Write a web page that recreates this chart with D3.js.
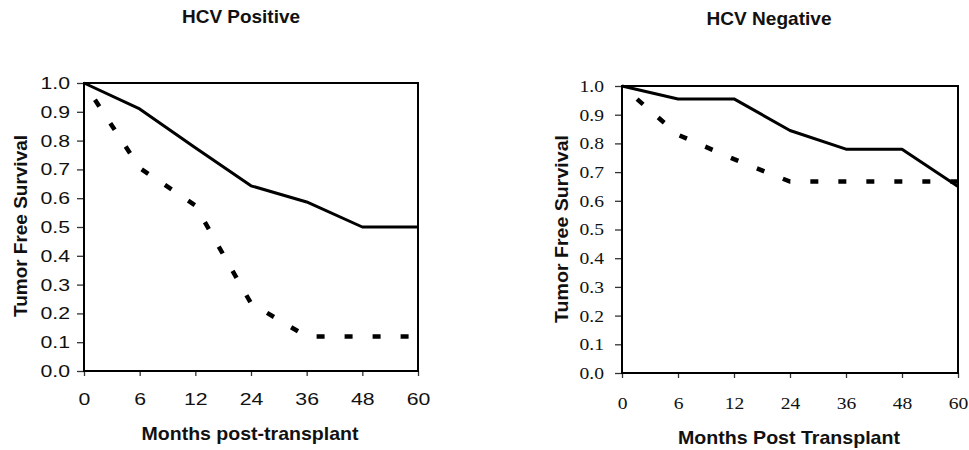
<!DOCTYPE html>
<html>
<head>
<meta charset="utf-8">
<script src="https://cdnjs.cloudflare.com/ajax/libs/d3/7.8.5/d3.min.js"></script>
<style>
  body { margin: 0; background: #fff; }
</style>
</head>
<body>
<svg id="canvas" width="969" height="450"></svg>
<script>
// months on the x axis (equally spaced categories)
let months = ['0', '6', '12', '24', '36', '48', '60'];
let yTicks = [0, 0.1, 0.2, 0.3, 0.4, 0.5, 0.6, 0.7, 0.8, 0.9, 1.0];

// HCV positive
let posSolid = [1.0, 0.91, 0.775, 0.643, 0.587, 0.5, 0.5];
let posDashed = [1.0, 0.705, 0.575, 0.235, 0.12, 0.12, 0.12];

// HCV negative
let negSolid = [1.0, 0.955, 0.955, 0.845, 0.78, 0.78, 0.65];
let negDashed = [1.0, 0.83, 0.745, 0.667, 0.667, 0.667, 0.667];

let canvas = d3.select('#canvas');

let stretch = (sel, k) => {
    sel.each(function () {
        let w = this.getComputedTextLength();
        d3.select(this).attr('textLength', w * k).attr('lengthAdjust', 'spacingAndGlyphs');
    });
};

let drawPanel = (p) => {
    let g = canvas.append('g');

    let x = d3.scalePoint().domain(months).range([p.left, p.right]);
    let y = d3.scaleLinear().domain([0, 1]).range([p.bottom, p.top]);

    // y axis ticks
    let yAxis = g.append('g')
        .attr('transform', 'translate(' + p.left + ',0)')
        .call(d3.axisLeft(y).tickValues(yTicks).tickFormat(d3.format('.1f'))
            .tickSize(7).tickPadding(p.yPad));
    yAxis.select('.domain').remove();

    let xAxis = g.append('g')
        .attr('transform', 'translate(0,' + p.bottom + ')')
        .call(d3.axisBottom(x).tickSize(5).tickPadding(p.xPad));
    xAxis.select('.domain').remove();

    g.selectAll('.tick line').attr('stroke', '#333').attr('stroke-width', 1.3);
    g.selectAll('.tick text')
        .attr('font-family', p.tickFont)
        .attr('font-size', 17)
        .attr('fill', '#111');
    stretch(g.selectAll('.tick text'), p.tickStretch);

    // frame
    g.append('rect')
        .attr('x', p.left).attr('y', p.top)
        .attr('width', p.right - p.left).attr('height', p.bottom - p.top)
        .attr('fill', 'none').attr('stroke', '#000').attr('stroke-width', 2);

    let line = d3.line()
        .x((d, i) => x(months[i]))
        .y((d) => y(d));

    g.append('path')
        .datum(p.dashed)
        .attr('d', line)
        .attr('fill', 'none')
        .attr('stroke', '#000')
        .attr('stroke-width', 4.5)
        .attr('stroke-dasharray', '8,20')
        .attr('stroke-dashoffset', 8);

    g.append('path')
        .datum(p.solid)
        .attr('d', line)
        .attr('fill', 'none')
        .attr('stroke', '#000')
        .attr('stroke-width', 3)
        .attr('stroke-linejoin', 'round');

    let bold = (t) => t.attr('font-family', 'Liberation Sans, Arial, sans-serif')
        .attr('font-weight', 'bold').attr('font-size', 19).attr('fill', '#111')
        .attr('text-anchor', 'middle').attr('lengthAdjust', 'spacingAndGlyphs');

    g.append('text').call(bold)
        .attr('x', p.titleX).attr('y', p.titleY)
        .attr('textLength', p.titleW)
        .text(p.title);

    g.append('text').call(bold)
        .attr('x', p.xLabelX).attr('y', p.xLabelY)
        .attr('textLength', p.xLabelW)
        .text(p.xLabel);

    g.append('text').call(bold)
        .attr('transform', 'translate(' + p.yLabelX + ',' + p.yLabelY + ') rotate(-90)')
        .attr('textLength', p.yLabelW)
        .text('Tumor Free Survival');
};

drawPanel({
    left: 84, right: 418, top: 83, bottom: 371,
    yPad: 7, xPad: 17,
    tickFont: 'Liberation Sans, Arial, sans-serif', tickStretch: 1.25,
    solid: posSolid, dashed: posDashed,
    title: 'HCV Positive', titleX: 241, titleY: 23, titleW: 118,
    xLabel: 'Months post-transplant', xLabelX: 250, xLabelY: 440, xLabelW: 217,
    yLabelX: 27, yLabelY: 226, yLabelW: 182
});

drawPanel({
    left: 622, right: 958, top: 86, bottom: 373,
    yPad: 11, xPad: 19,
    tickFont: 'Liberation Serif, Times New Roman, serif', tickStretch: 1.15,
    solid: negSolid, dashed: negDashed,
    title: 'HCV Negative', titleX: 769, titleY: 25, titleW: 125,
    xLabel: 'Months Post Transplant', xLabelX: 789, xLabelY: 444, xLabelW: 222,
    yLabelX: 568, yLabelY: 229, yLabelW: 188
});
</script>
</body>
</html>
